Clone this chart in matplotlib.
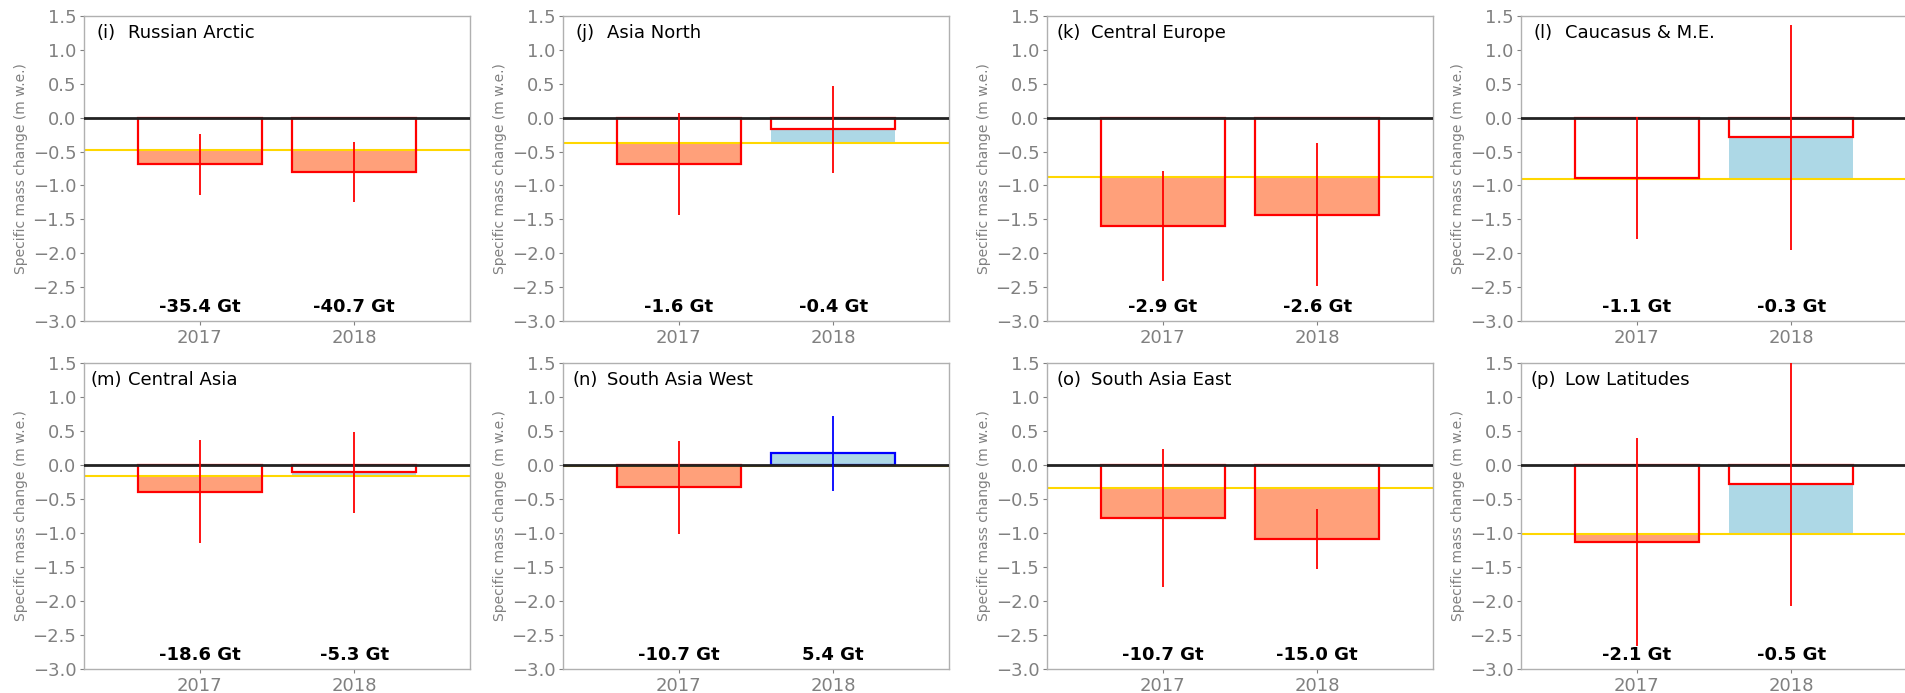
import matplotlib
matplotlib.use("Agg")
import matplotlib.pyplot as plt
import numpy as np

years = ["2017", "2018"]
panel_letters = ["(i)", "(j)", "(k)", "(l)", "(m)", "(n)", "(o)", "(p)"]
regions = ["Russian Arctic", "Asia North", "Central Europe", "Caucasus & M.E.",
           "Central Asia", "South Asia West", "South Asia East", "Low Latitudes"]
values_2017 = [-0.69, -0.68, -1.60, -0.89, -0.39, -0.33, -0.78, -1.13]
values_2018 = [-0.80, -0.17, -1.43, -0.29, -0.11, 0.17, -1.09, -0.28]
errors_2017 = [0.45, 0.75, 0.81, 0.90, 0.76, 0.68, 1.01, 1.53]
errors_2018 = [0.44, 0.64, 1.06, 1.66, 0.60, 0.55, 0.44, 1.79]
reference = [-0.48, -0.37, -0.87, -0.91, -0.16, -0.02, -0.34, -1.02]
gt_2017 = ["-35.4 Gt", "-1.6 Gt", "-2.9 Gt", "-1.1 Gt", "-18.6 Gt", "-10.7 Gt", "-10.7 Gt", "-2.1 Gt"]
gt_2018 = ["-40.7 Gt", "-0.4 Gt", "-2.6 Gt", "-0.3 Gt", "-5.3 Gt", "5.4 Gt", "-15.0 Gt", "-0.5 Gt"]

W, H = 1905, 693
fig = plt.figure(figsize=(W / 100, H / 100), dpi=100)

lefts = [84, 563, 1047, 1521]
rows = [(16, 321), (363, 669)]
axw = 386

gray = "#808080"
spine_gray = "#b0b0b0"
salmon = "#FFA07A"
lightblue = "#ADD8E6"

for i in range(8):
    r, c = divmod(i, 4)
    top, bot = rows[r]
    ax = fig.add_axes([lefts[c] / W, (H - bot) / H, axw / W, (bot - top) / H])
    x = np.arange(len(years))
    vals = np.array([values_2017[i], values_2018[i]])
    errs = np.array([errors_2017[i], errors_2018[i]])
    ref = reference[i]
    edge_cols = ["red" if v < 0 else "blue" for v in vals]
    fill_cols = [salmon if v < ref else lightblue for v in vals]
    ax.bar(x, vals - ref, bottom=ref, width=0.8, color=fill_cols, edgecolor="none", zorder=1)
    ax.bar(x, vals, width=0.8, fill=False, edgecolor=edge_cols, linewidth=1.6, zorder=3)
    ax.axhline(ref, color="gold", lw=1.5, zorder=2)
    ax.axhline(0, color="#222222", lw=2.0, zorder=4)
    for xi, v, e, ec in zip(x, vals, errs, edge_cols):
        ax.errorbar(xi, v, yerr=e, fmt="none", ecolor=ec, elinewidth=1.3, capsize=0, zorder=5)
    ax.set_xlim(-0.75, 1.75)
    ax.set_ylim(-3.0, 1.5)
    ax.set_yticks(np.arange(-3.0, 1.51, 0.5))
    ax.set_xticks(x)
    ax.set_xticklabels(years)
    ax.tick_params(colors=gray, labelsize=13, length=3, width=0.8, pad=2.5)
    for s in ax.spines.values():
        s.set_color(spine_gray)
        s.set_linewidth(1.0)
    ax.set_ylabel("Specific mass change (m w.e.)", color=gray, fontsize=10, labelpad=3)
    ax.text(0.057, 0.945, panel_letters[i], transform=ax.transAxes, ha="center", va="center", fontsize=13)
    ax.text(0.114, 0.945, regions[i], transform=ax.transAxes, ha="left", va="center", fontsize=13)
    ax.text(0, -2.8, gt_2017[i], ha="center", va="center", fontsize=13, fontweight="bold")
    ax.text(1, -2.8, gt_2018[i], ha="center", va="center", fontsize=13, fontweight="bold")

fig.savefig("out.png", dpi=100)
